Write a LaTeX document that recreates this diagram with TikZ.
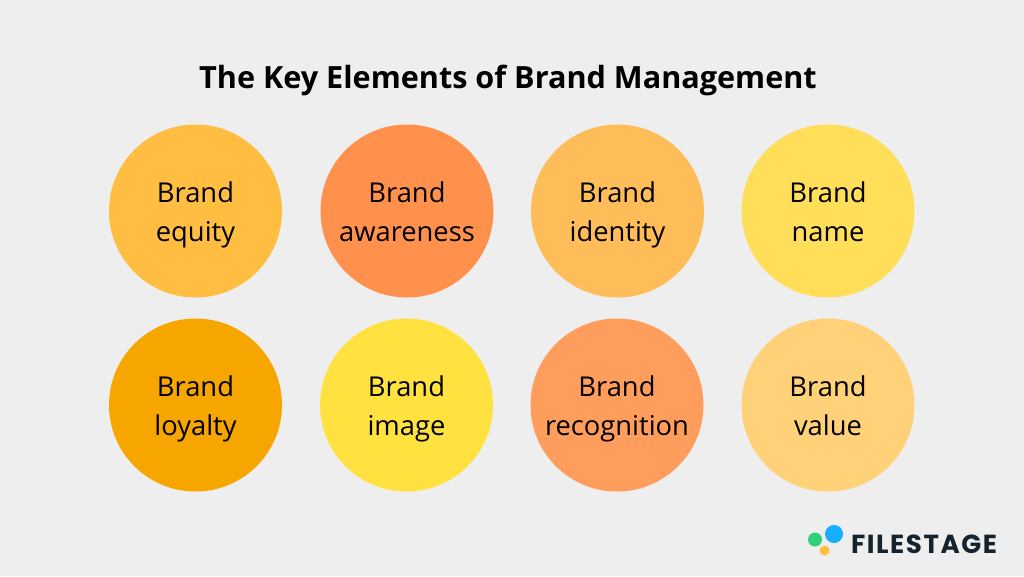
\documentclass[tikz,border=0pt]{standalone}
\usepackage{fontspec}
\setmainfont{Open Sans}
\newfontfamily\logofont[LetterSpace=6]{Poppins}
\definecolor{bg}{HTML}{EEEEEE}
\definecolor{cA}{HTML}{FFBE41}
\definecolor{cB}{HTML}{FF914D}
\definecolor{cC}{HTML}{FFBD59}
\definecolor{cD}{HTML}{FFDE59}
\definecolor{cE}{HTML}{F7A600}
\definecolor{cF}{HTML}{FFE23F}
\definecolor{cG}{HTML}{FF9E5C}
\definecolor{cH}{HTML}{FFD27A}
\definecolor{logoDark}{HTML}{14232D}
\definecolor{logoGreen}{HTML}{2FD07A}
\definecolor{logoBlue}{HTML}{18AEFF}
\definecolor{logoGold}{HTML}{FFBE41}
\newcommand{\brandlabel}[1]{\rule{0pt}{29.5pt}Brand\\#1\rule[-13pt]{0pt}{13pt}}
\tikzset{
  x=0.75pt,y=-0.75pt,
  brandcircle/.style={circle,minimum size=129.75pt,inner sep=0pt,align=center,
    font=\fontsize{20.5}{29}\selectfont,text=black},
  dot/.style={circle,inner sep=0pt}
}
\begin{document}
\begin{tikzpicture}
\path[use as bounding box,fill=bg] (0,0) rectangle (1024,576);
\node[font=\fontsize{22.95}{27}\selectfont\bfseries,text=black] (title) at (508,80) {The Key Elements of Brand Management};
\node[brandcircle,fill=cA] (equity) at (195.5,211) {\brandlabel{equity}};
\node[brandcircle,fill=cB] (awareness) at (407,211) {\brandlabel{awareness}};
\node[brandcircle,fill=cC] (identity) at (617.5,211) {\brandlabel{identity}};
\node[brandcircle,fill=cD] (name) at (828,211) {\brandlabel{name}};
\node[brandcircle,fill=cE] (loyalty) at (195.5,405) {\brandlabel{loyalty}};
\node[brandcircle,fill=cF] (image) at (406.5,405) {\brandlabel{image}};
\node[brandcircle,fill=cG] (recognition) at (617,405) {\brandlabel{recognition}};
\node[brandcircle,fill=cH] (value) at (828,405) {\brandlabel{value}};
\node[dot,fill=logoGreen,minimum size=10.5pt] (lg) at (815,539.5) {};
\node[dot,fill=logoBlue,minimum size=13.5pt] (lb) at (834,534) {};
\node[dot,fill=logoGold,minimum size=7.5pt] (ly) at (824.5,550.5) {};
\node[font=\logofont\fontsize{19.6}{22}\selectfont\bfseries,text=logoDark,anchor=center] (logo) at (924,544) {FILESTAGE};
\end{tikzpicture}
\end{document}
